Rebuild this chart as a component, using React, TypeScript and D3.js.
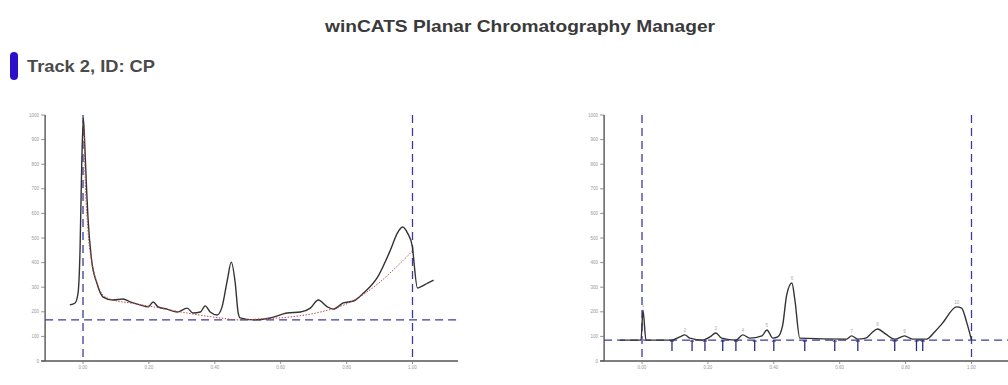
import { useEffect, useRef } from 'react';
import * as d3 from 'd3';

// raw densitogram of the track [Rf, AU]
const rawRf = [-0.04, -0.024, -0.015, -0.009, -0.004, 0.001, 0.006, 0.011, 0.015, 0.026, 0.042, 0.061, 0.091, 0.122, 0.143, 0.173, 0.198, 0.213, 0.228, 0.255, 0.286, 0.316, 0.334, 0.356, 0.371, 0.386, 0.407, 0.422, 0.438, 0.45, 0.462, 0.471, 0.477, 0.517, 0.568, 0.62, 0.66, 0.69, 0.714, 0.742, 0.76, 0.79, 0.821, 0.851, 0.894, 0.933, 0.954, 0.97, 0.985, 1.0, 1.003, 1.015, 1.024, 1.046, 1.064];
const rawAU = [228, 236, 276, 451, 789, 988, 858, 695, 585, 411, 317, 260, 248, 252, 240, 228, 220, 240, 220, 211, 199, 215, 195, 199, 224, 199, 187, 220, 329, 402, 317, 195, 175, 167, 175, 195, 199, 215, 248, 220, 211, 236, 244, 276, 341, 451, 520, 545, 520, 463, 423, 297, 301, 317, 329];

// fitted baseline (red dotted)
const baseRf = [0.003, 0.006, 0.015, 0.027, 0.043, 0.061, 0.091, 0.143, 0.213, 0.316, 0.416, 0.477, 0.538, 0.629, 0.72, 0.812, 0.894, 0.954, 1.0];
const baseAU = [959, 776, 533, 402, 317, 268, 248, 236, 220, 195, 175, 167, 171, 179, 199, 240, 313, 386, 447];

// baseline-corrected densitogram
const corrRf = [-0.067, -0.003, 0.003, 0.012, 0.091, 0.115, 0.13, 0.145, 0.185, 0.206, 0.224, 0.242, 0.285, 0.306, 0.327, 0.364, 0.379, 0.397, 0.412, 0.427, 0.439, 0.455, 0.464, 0.479, 0.621, 0.636, 0.655, 0.679, 0.697, 0.715, 0.739, 0.767, 0.797, 0.821, 0.864, 0.888, 0.912, 0.955, 0.97, 0.985, 1.0];
const corrAU = [85, 85, 207, 85, 85, 98, 106, 93, 85, 98, 114, 93, 85, 106, 93, 102, 126, 93, 98, 146, 268, 317, 248, 93, 89, 102, 89, 93, 114, 130, 110, 89, 102, 89, 89, 118, 154, 220, 215, 159, 85];

// peak start/end markers and peak numbers
const peakBounds = [0.091, 0.152, 0.191, 0.245, 0.285, 0.342, 0.4, 0.494, 0.585, 0.655, 0.767, 0.833, 0.852];
const peakRf = [0.003, 0.13, 0.224, 0.306, 0.379, 0.455, 0.636, 0.715, 0.797, 0.955];

const yTicks = [0, 100, 200, 300, 400, 500, 600, 700, 800, 900, 1000];
const xTicks = [0, 0.2, 0.4, 0.6, 0.8, 1.0];
const levelLeft = 167;
const levelRight = 85;

const App = () => {
  const ref = useRef<SVGSVGElement>(null!);

  useEffect(() => {
    const svg = d3.select(ref.current);
    svg.selectAll('*').remove();

    svg.append('text').attr('x', 325).attr('y', 32)
      .attr('font-family', 'Liberation Sans, Arial, sans-serif').attr('font-weight', 'bold')
      .attr('font-size', 16.5).attr('fill', '#3a3a3a')
      .attr('textLength', 390).attr('lengthAdjust', 'spacingAndGlyphs')
      .text('winCATS Planar Chromatography Manager');
    svg.append('rect').attr('x', 10).attr('y', 52).attr('width', 8).attr('height', 28).attr('rx', 4)
      .attr('fill', '#2a10c8');
    svg.append('text').attr('x', 27).attr('y', 72)
      .attr('font-family', 'Liberation Sans, Arial, sans-serif').attr('font-weight', 'bold')
      .attr('font-size', 17).attr('fill', '#4a4a4a')
      .attr('textLength', 128).attr('lengthAdjust', 'spacingAndGlyphs')
      .text('Track 2, ID: CP');

    const y = d3.scaleLinear().domain([0, 1000]).range([361, 115]);

    const panel = (x0: number, right: number) => {
      const x = d3.scaleLinear().domain([0, 1]).range([x0, x0 + 329.5]);
      const g = svg.append('g');
      const left = x(-0.115);
      // y axis
      g.append('line').attr('x1', left).attr('x2', left).attr('y1', y(1000)).attr('y2', y(0))
        .attr('stroke', '#555').attr('stroke-width', 1.4);
      yTicks.forEach(t => {
        g.append('line').attr('x1', left - 4).attr('x2', left).attr('y1', y(t)).attr('y2', y(t))
          .attr('stroke', '#777').attr('stroke-width', 0.8);
        g.append('text').attr('x', left - 6).attr('y', y(t) + 1.5).attr('text-anchor', 'end')
          .attr('font-size', 4.5).attr('fill', '#999').attr('font-family', 'Liberation Sans, sans-serif')
          .text(t);
      });
      // x axis
      g.append('line').attr('x1', left - 4).attr('x2', right).attr('y1', y(0)).attr('y2', y(0))
        .attr('stroke', '#555').attr('stroke-width', 1.4);
      xTicks.forEach(t => {
        g.append('line').attr('x1', x(t)).attr('x2', x(t)).attr('y1', y(0)).attr('y2', y(0) + 3)
          .attr('stroke', '#777').attr('stroke-width', 0.8);
        g.append('text').attr('x', x(t)).attr('y', y(0) + 8).attr('text-anchor', 'middle')
          .attr('font-size', 4.5).attr('fill', '#999').attr('font-family', 'Liberation Sans, sans-serif')
          .text(t.toFixed(2));
      });
      return { x, g, left };
    };

    const dash = '#3c3c9c';

    // left panel: raw + baseline
    const L = panel(83, 458);
    L.g.append('line').attr('x1', L.left).attr('x2', 458).attr('y1', y(levelLeft)).attr('y2', y(levelLeft))
      .attr('stroke', dash).attr('stroke-width', 1.4).attr('stroke-dasharray', '8,5');
    [0, 1].forEach(r => {
      L.g.append('line').attr('x1', L.x(r)).attr('x2', L.x(r)).attr('y1', y(1000)).attr('y2', y(0))
        .attr('stroke', dash).attr('stroke-width', 1.3).attr('stroke-dasharray', '8,5');
    });
    const lineL = d3.line<number>().x((_, i) => L.x(rawRf[i])).y(d => y(d)).curve(d3.curveMonotoneX);
    L.g.append('path').attr('d', lineL(rawAU)).attr('fill', 'none').attr('stroke', '#333').attr('stroke-width', 1.4);
    const lineB = d3.line<number>().x((_, i) => L.x(baseRf[i])).y(d => y(d)).curve(d3.curveMonotoneX);
    L.g.append('path').attr('d', lineB(baseAU)).attr('fill', 'none').attr('stroke', '#c04848')
      .attr('stroke-width', 1).attr('stroke-dasharray', '1.5,1.5');

    // right panel: baseline corrected
    const R = panel(642, 1008);
    R.g.append('line').attr('x1', R.left).attr('x2', 1008).attr('y1', y(levelRight)).attr('y2', y(levelRight))
      .attr('stroke', dash).attr('stroke-width', 1.4).attr('stroke-dasharray', '8,5');
    [0, 1].forEach(r => {
      R.g.append('line').attr('x1', R.x(r)).attr('x2', R.x(r)).attr('y1', y(1000)).attr('y2', y(0))
        .attr('stroke', dash).attr('stroke-width', 1.3).attr('stroke-dasharray', '8,5');
    });
    peakBounds.forEach(b => {
      R.g.append('line').attr('x1', R.x(b)).attr('x2', R.x(b)).attr('y1', y(levelRight)).attr('y2', y(levelRight) + 11)
        .attr('stroke', '#2c2c7c').attr('stroke-width', 1.3);
      R.g.append('line').attr('x1', R.x(b) - 2).attr('x2', R.x(b) + 2).attr('y1', y(levelRight) + 1).attr('y2', y(levelRight) + 1)
        .attr('stroke', '#2c2c7c').attr('stroke-width', 1);
    });
    const lineR = d3.line<number>().x((_, i) => R.x(corrRf[i])).y(d => y(d)).curve(d3.curveMonotoneX);
    R.g.append('path').attr('d', lineR(corrAU)).attr('fill', 'none').attr('stroke', '#333').attr('stroke-width', 1.4);
    peakRf.forEach((p, i) => {
      const idx = corrRf.indexOf(p);
      R.g.append('text').attr('x', R.x(p)).attr('y', y(corrAU[idx]) - 3).attr('text-anchor', 'middle')
        .attr('font-size', 4.5).attr('fill', '#aaa').attr('font-family', 'Liberation Sans, sans-serif')
        .text(i + 1);
    });

    return () => {
      svg.selectAll('*').remove();
    };
  }, []);

  return (
    <svg ref={ref} width={1008} height={385}
      style={{ position: 'absolute', left: 0, top: 0, background: '#fff' }} />
  );
};

export default App;
